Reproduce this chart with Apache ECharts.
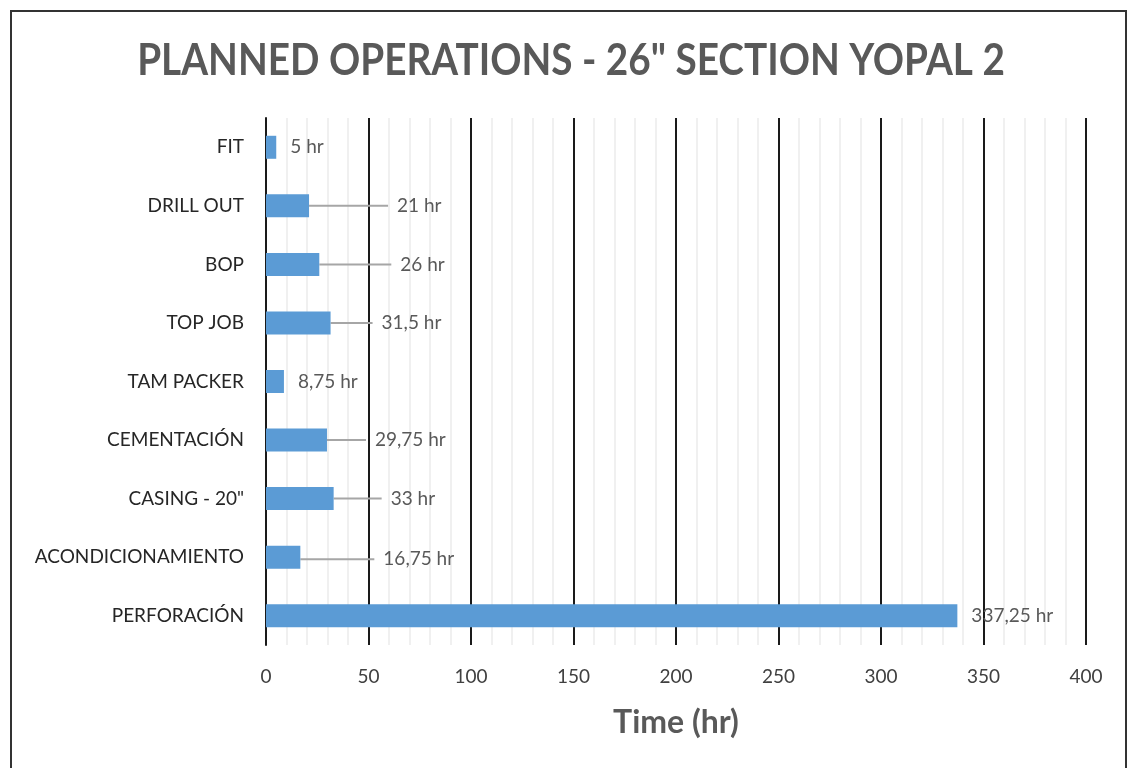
<!DOCTYPE html>
<html>
<head>
<meta charset="utf-8">
<script src="https://cdn.jsdelivr.net/npm/echarts@6/dist/echarts.min.js"></script>
<style>
  html, body { margin: 0; padding: 0; background: #fff; }
  #chart { width: 1131px; height: 768px; }
</style>
</head>
<body>
<div id="chart"></div>
<script>
  // categories, top to bottom
  var categories = ["FIT", "DRILL OUT", "BOP", "TOP JOB", "TAM PACKER", "CEMENTACIÓN", "CASING - 20\"", "ACONDICIONAMIENTO", "PERFORACIÓN"];
  var hours = [5, 21, 26, 31.5, 8.75, 29.75, 33, 16.75, 337.25];
  var labelText = ["5 hr", "21 hr", "26 hr", "31,5 hr", "8,75 hr", "29,75 hr", "33 hr", "16,75 hr", "337,25 hr"];

  // how far each label was pushed right (px); leader line only where moved
  var labelShift = [0, 74, 67, 37, 0, 34, 43, 69, 0];
  var labelDy = [0, 0, 0, 0, 0, 0, 0, 2, 0];

  var chart = echarts.init(document.getElementById("chart"));
  var font = "Lato, 'Open Sans', sans-serif";

  var barData = hours.map(function (v, i) {
    return { value: v, labelLine: { show: labelShift[i] > 0 } };
  });

  var option = {
    backgroundColor: "#fff",
    animation: false,
    graphic: [{
      type: "rect",
      shape: { x: 11, y: 11, width: 1115, height: 770 },
      style: { fill: null, stroke: "#333", lineWidth: 2 },
      silent: true
    }, {
      type: "text",
      x: 571,
      y: 61,
      scaleX: 0.88,
      style: {
        text: "PLANNED OPERATIONS - 26\" SECTION YOPAL 2",
        align: "center",
        verticalAlign: "middle",
        font: "bold 44px " + font,
        fill: "#595959"
      },
      silent: true
    }],
    grid: { left: 266, right: 45, top: 118, bottom: 123 },
    xAxis: {
      type: "value",
      min: 0,
      max: 400,
      interval: 50,
      name: "Time (hr)",
      nameLocation: "middle",
      nameGap: 62,
      nameTextStyle: { fontFamily: font, fontSize: 32, fontWeight: "bold", color: "#595959" },
      axisLine: { show: false },
      axisTick: { show: false },
      axisLabel: { fontFamily: font, fontSize: 19, color: "#404040", margin: 22 },
      splitLine: { show: true, lineStyle: { color: "#1a1a1a", width: 2 } },
      minorTick: { show: false, splitNumber: 5 },
      minorSplitLine: { show: true, lineStyle: { color: "#f0f0f0", width: 2 } }
    },
    yAxis: {
      type: "category",
      inverse: true,
      data: categories,
      axisLine: { show: true, lineStyle: { color: "#1a1a1a", width: 2 } },
      axisTick: { show: false },
      axisLabel: { fontFamily: font, fontSize: 19, color: "#262626", margin: 22 }
    },
    series: [{
      type: "bar",
      data: barData,
      barWidth: 23,
      itemStyle: { color: "#5b9bd5" },
      label: {
        show: true,
        position: "right",
        distance: 5,
        fontFamily: font,
        fontSize: 19,
        color: "#595959",
        formatter: function (p) { return "{gap| }" + labelText[p.dataIndex]; },
        rich: {
          gap: { width: 9, fontSize: 19 }
        }
      },
      labelLine: { show: true, lineStyle: { color: "#a6a6a6", width: 2 } },
      labelLayout: function (p) {
        return { dx: labelShift[p.dataIndex], dy: labelDy[p.dataIndex] };
      }
    }]
  };

  chart.setOption(option);
</script>
</body>
</html>
